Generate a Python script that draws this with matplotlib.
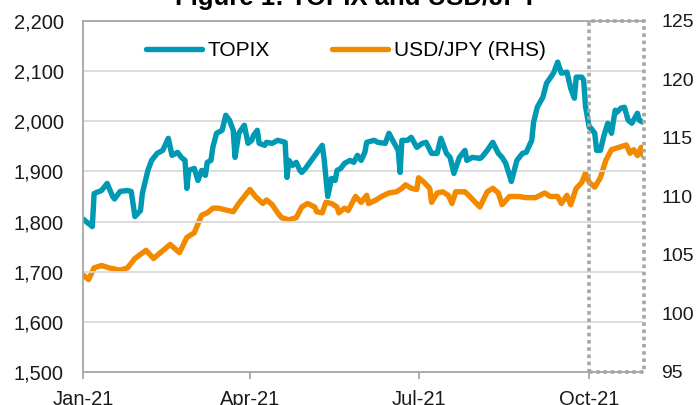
"""TOPIX vs USD/JPY, 2021 (two-axis line chart)."""
import pandas as pd
import matplotlib
matplotlib.use("Agg")
import matplotlib.pyplot as plt
import matplotlib.dates as mdates
from matplotlib.patches import Rectangle
from matplotlib.ticker import FuncFormatter

plt.rcParams['font.family'] = ['Liberation Sans', 'DejaVu Sans']

# TOPIX (left axis)
topix_dates = [
    "2021-01-01", "2021-01-06", "2021-01-07", "2021-01-11", "2021-01-14", "2021-01-17",
    "2021-01-18", "2021-01-21", "2021-01-25", "2021-01-27", "2021-01-29", "2021-02-01",
    "2021-02-02", "2021-02-05", "2021-02-07", "2021-02-10", "2021-02-13", "2021-02-16",
    "2021-02-18", "2021-02-21", "2021-02-23", "2021-02-25", "2021-02-26", "2021-02-27",
    "2021-03-02", "2021-03-04", "2021-03-06", "2021-03-08", "2021-03-09", "2021-03-11",
    "2021-03-12", "2021-03-14", "2021-03-17", "2021-03-19", "2021-03-21", "2021-03-23",
    "2021-03-24", "2021-03-26", "2021-03-29", "2021-03-31", "2021-04-02", "2021-04-03",
    "2021-04-05", "2021-04-06", "2021-04-09", "2021-04-10", "2021-04-13", "2021-04-16",
    "2021-04-20", "2021-04-21", "2021-04-22", "2021-04-24", "2021-04-26", "2021-04-28",
    "2021-04-29", "2021-05-01", "2021-05-10", "2021-05-11", "2021-05-13", "2021-05-15",
    "2021-05-17", "2021-05-18", "2021-05-20", "2021-05-22", "2021-05-25", "2021-05-27",
    "2021-05-29", "2021-05-31", "2021-06-02", "2021-06-03", "2021-06-07", "2021-06-09",
    "2021-06-13", "2021-06-15", "2021-06-17", "2021-06-20", "2021-06-21", "2021-06-22",
    "2021-06-25", "2021-06-27", "2021-06-30", "2021-07-03", "2021-07-05", "2021-07-08",
    "2021-07-11", "2021-07-13", "2021-07-16", "2021-07-18", "2021-07-20", "2021-07-23",
    "2021-07-26", "2021-07-27", "2021-07-30", "2021-08-03", "2021-08-04", "2021-08-07",
    "2021-08-10", "2021-08-13", "2021-08-15", "2021-08-17", "2021-08-20", "2021-08-23",
    "2021-08-26", "2021-08-28", "2021-08-31", "2021-09-01", "2021-09-03", "2021-09-06",
    "2021-09-08", "2021-09-11", "2021-09-12", "2021-09-14", "2021-09-16", "2021-09-19",
    "2021-09-21", "2021-09-23", "2021-09-24", "2021-09-27", "2021-09-28", "2021-09-29",
    "2021-10-01", "2021-10-02", "2021-10-04", "2021-10-05", "2021-10-07", "2021-10-09",
    "2021-10-11", "2021-10-13", "2021-10-15", "2021-10-16", "2021-10-18", "2021-10-20",
    "2021-10-22", "2021-10-24", "2021-10-27", "2021-10-28", "2021-10-30",
]
topix_values = [
    1805, 1790, 1856, 1862, 1876, 1850,
    1845, 1860, 1862, 1860, 1810, 1822,
    1856, 1902, 1922, 1936, 1942, 1966,
    1932, 1938, 1928, 1922, 1866, 1902,
    1906, 1882, 1902, 1892, 1918, 1922,
    1948, 1976, 1982, 2012, 2002, 1982,
    1928, 1976, 1992, 1956, 1962, 1972,
    1982, 1956, 1952, 1958, 1956, 1962,
    1958, 1888, 1922, 1912, 1918, 1902,
    1898, 1906, 1952, 1926, 1850, 1886,
    1882, 1902, 1906, 1916, 1922, 1918,
    1932, 1922, 1938, 1958, 1962, 1958,
    1956, 1976, 1962, 1942, 1898, 1962,
    1962, 1968, 1948, 1956, 1958, 1936,
    1936, 1966, 1936, 1928, 1896, 1928,
    1942, 1922, 1928, 1926, 1928, 1942,
    1958, 1936, 1928, 1916, 1880, 1922,
    1936, 1938, 1962, 1998, 2028, 2048,
    2076, 2092, 2098, 2118, 2096, 2098,
    2066, 2046, 2088, 2088, 2082, 2030,
    1988, 1986, 1976, 1942, 1942, 1972,
    1996, 1976, 2022, 2018, 2026, 2028,
    2002, 1996, 2016, 2002, 1998,
]

# USD/JPY (right axis)
usdjpy_dates = [
    "2021-01-01", "2021-01-04", "2021-01-07", "2021-01-11", "2021-01-15", "2021-01-21",
    "2021-01-25", "2021-01-29", "2021-02-04", "2021-02-08", "2021-02-17", "2021-02-22",
    "2021-02-26", "2021-03-02", "2021-03-06", "2021-03-09", "2021-03-12", "2021-03-15",
    "2021-03-23", "2021-03-26", "2021-04-01", "2021-04-04", "2021-04-08", "2021-04-10",
    "2021-04-13", "2021-04-16", "2021-04-18", "2021-04-22", "2021-04-26", "2021-04-29",
    "2021-05-02", "2021-05-06", "2021-05-07", "2021-05-10", "2021-05-12", "2021-05-15",
    "2021-05-18", "2021-05-19", "2021-05-22", "2021-05-24", "2021-05-26", "2021-05-28",
    "2021-05-31", "2021-06-03", "2021-06-04", "2021-06-08", "2021-06-11", "2021-06-15",
    "2021-06-19", "2021-06-22", "2021-06-24", "2021-06-27", "2021-06-30", "2021-07-01",
    "2021-07-04", "2021-07-07", "2021-07-08", "2021-07-11", "2021-07-14", "2021-07-17",
    "2021-07-19", "2021-07-21", "2021-07-26", "2021-07-28", "2021-08-03", "2021-08-07",
    "2021-08-10", "2021-08-13", "2021-08-15", "2021-08-19", "2021-08-24", "2021-08-28",
    "2021-09-02", "2021-09-07", "2021-09-10", "2021-09-14", "2021-09-16", "2021-09-19",
    "2021-09-21", "2021-09-24", "2021-09-27", "2021-09-29", "2021-10-01", "2021-10-04",
    "2021-10-07", "2021-10-10", "2021-10-13", "2021-10-17", "2021-10-21", "2021-10-23",
    "2021-10-25", "2021-10-27", "2021-10-29", "2021-10-30",
]
usdjpy_values = [
    103.3, 102.9, 103.9, 104.1, 103.9, 103.7,
    103.9, 104.7, 105.4, 104.7, 105.9, 105.2,
    106.5, 106.9, 108.4, 108.6, 109.0, 109.0,
    108.7, 109.4, 110.6, 110.0, 109.4, 109.7,
    109.3, 108.6, 108.2, 108.0, 108.2, 109.1,
    109.4, 109.1, 108.7, 108.6, 109.5, 109.4,
    109.1, 108.6, 109.0, 108.8, 109.4, 110.0,
    109.5, 110.1, 109.4, 109.7, 110.0, 110.3,
    110.4, 110.7, 111.0, 110.7, 110.6, 111.6,
    111.2, 110.7, 109.5, 110.3, 110.4, 110.1,
    109.4, 110.4, 110.4, 110.1, 109.1, 110.4,
    110.7, 110.3, 109.3, 110.0, 110.0, 109.9,
    109.9, 110.3, 110.0, 110.0, 109.4, 110.1,
    109.3, 110.7, 111.2, 112.0, 111.2, 110.8,
    111.6, 113.1, 114.0, 114.2, 114.4, 113.7,
    114.0, 113.5, 114.2, 113.5,
]

month_ticks = ["2021-01-01", "2021-04-01", "2021-07-01", "2021-10-01"]
month_labels = ["Jan-21", "Apr-21", "Jul-21", "Oct-21"]

teal = '#0099B4'
orange = '#F28A00'
grey = '#A6A6A6'

fig = plt.figure(figsize=(6.97, 4.05), dpi=100)
ax = fig.add_axes([0.1191, 0.0815, 0.8034, 0.8667])
ax2 = ax.twinx()

ax.plot(pd.to_datetime(topix_dates), topix_values, color=teal, linewidth=3.9,
        solid_joinstyle='round', solid_capstyle='round', label="TOPIX")
ax2.plot(pd.to_datetime(usdjpy_dates), usdjpy_values, color=orange, linewidth=3.9,
         solid_joinstyle='round', solid_capstyle='round', label="USD/JPY (RHS)")
ax.set_zorder(ax2.get_zorder() + 1)
ax.patch.set_visible(False)

x0 = pd.Timestamp("2021-01-01")
x1 = pd.Timestamp("2021-10-30")
ax.set_xlim(x0, x1)
ax.set_ylim(1500, 2200)
ax2.set_ylim(95, 125)
ax.set_yticks(range(1500, 2201, 100))
ax2.set_yticks(range(95, 126, 5))
ax.yaxis.set_major_formatter(FuncFormatter(lambda v, p: f"{int(v):,}"))

ax.set_xticks(pd.to_datetime(month_ticks))
ax.set_xticklabels(month_labels)

ax.grid(True, axis='y', color='#D9D9D9', linewidth=1.3)
ax.set_axisbelow(True)

for a in (ax, ax2):
    a.spines['right'].set_visible(False)
    for s in ('left', 'top', 'bottom'):
        a.spines[s].set_color(grey)
        a.spines[s].set_linewidth(1.3)
ax2.spines['left'].set_visible(False)
ax2.spines['top'].set_visible(False)
ax2.spines['bottom'].set_visible(False)

ax.tick_params(axis='y', length=0, pad=14, labelsize=14.5, colors='#1a1a1a')
ax.tick_params(axis='x', length=5, width=1.3, color=grey, pad=8,
               labelsize=14.5, labelcolor='#1a1a1a')
ax2.tick_params(axis='y', length=0, pad=13, labelsize=14, colors='#1a1a1a')

# dotted box around October
box_start = mdates.date2num(pd.Timestamp("2021-10-01"))
box = Rectangle((box_start, 0), mdates.date2num(x1) - box_start + 0.5, 1,
                transform=ax.get_xaxis_transform(), fill=False,
                edgecolor=grey, linewidth=2.6, linestyle=(0, (1, 1)),
                clip_on=False, zorder=5)
ax.add_patch(box)

h1, l1 = ax.get_legend_handles_labels()
h2, l2 = ax2.get_legend_handles_labels()
ax.legend(h1 + h2, l1 + l2, loc='upper center', bbox_to_anchor=(0.469, 0.995),
          ncol=2, frameon=False, fontsize=15, handlelength=2.7,
          handletextpad=0.25, columnspacing=3.0)

fig.text(0.512, 0.988, "Figure 1: TOPIX and USD/JPY", ha='center', va='baseline',
         fontsize=18.5, fontweight='bold')

fig.savefig("out.png", dpi=100)
